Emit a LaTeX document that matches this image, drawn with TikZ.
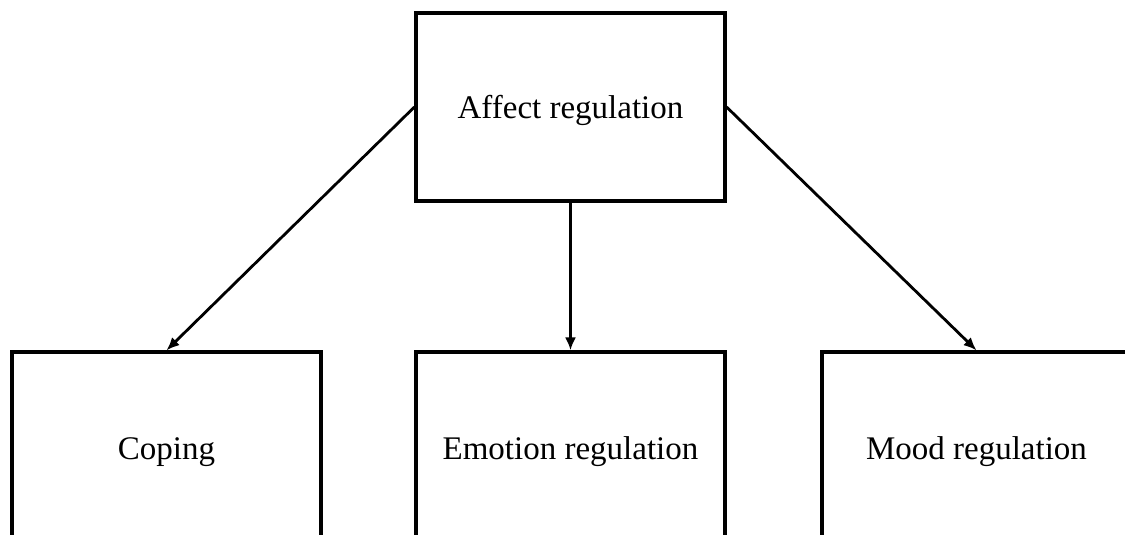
\documentclass[tikz,border=0pt]{standalone}
\usepackage{fontspec}
\setmainfont{Liberation Serif}
\usetikzlibrary{arrows.meta}
\begin{document}
\begin{tikzpicture}[x=1pt,y=-1pt,
  box/.style={draw=black, line width=3.2pt, minimum width=309pt, inner sep=0pt,
    text height=22pt, text depth=0pt,
    font=\fontsize{33}{40}\selectfont},
  link/.style={line width=2.8pt, -{Latex[length=13pt,width=11pt]}}]
  \useasboundingbox (0,0) rectangle (1125,535);
  \fill[white] (0,0) rectangle (1125,535);
  \clip (0,0) rectangle (1125,535);
  % top-level concept
  \node[box, minimum height=188pt] (affect) at (570.5,107) {Affect regulation};
  % three sub-concepts, their lower edges run below the frame
  \node[box, minimum height=192pt] (coping) at (166.5,448) {Coping};
  \node[box, minimum height=192pt] (emotion) at (570.5,448) {Emotion regulation};
  \node[box, minimum height=192pt] (mood) at (976.5,448) {Mood regulation};
  % connectors
  \draw[link] (affect.west) -- (coping.north);
  \draw[link] (affect.south) -- (emotion.north);
  \draw[link] (affect.east) -- (mood.north);
\end{tikzpicture}
\end{document}
